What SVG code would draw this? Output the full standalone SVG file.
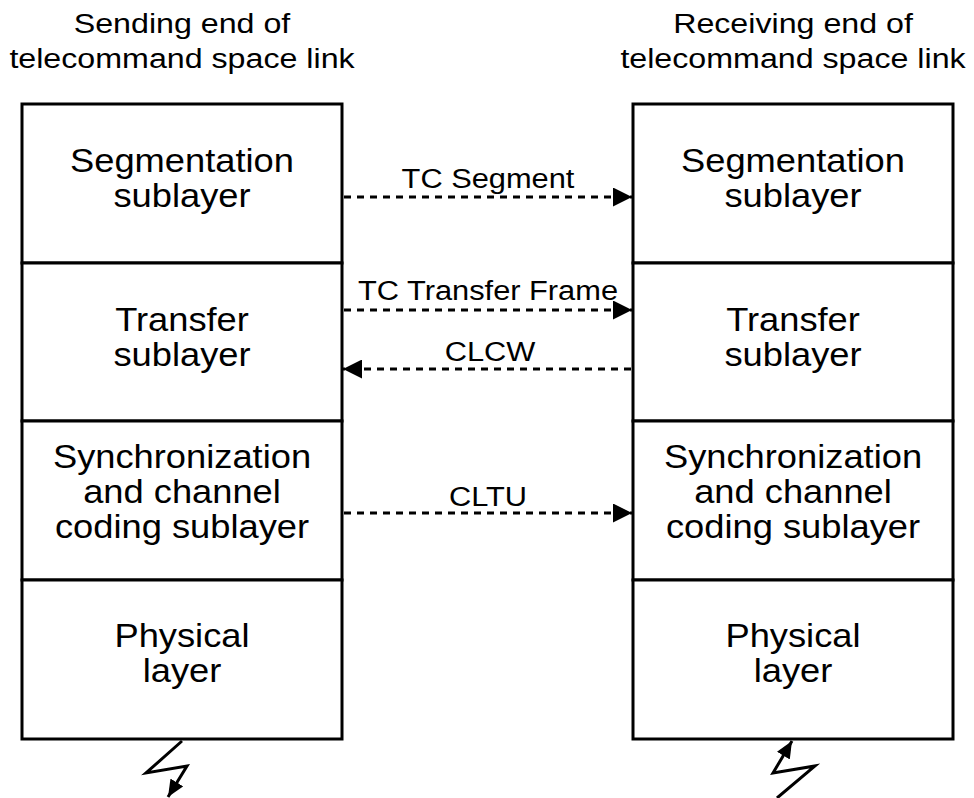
<svg xmlns="http://www.w3.org/2000/svg" width="974" height="798" viewBox="0 0 974 798">
<style>
.box{fill:#fff;stroke:#000;stroke-width:3}
.t{font-family:"Liberation Sans",Arial,sans-serif;font-size:33px;fill:#000;text-anchor:middle}
.h{font-family:"Liberation Sans",Arial,sans-serif;font-size:28px;fill:#000;text-anchor:middle}
.l{font-family:"Liberation Sans",Arial,sans-serif;font-size:28px;fill:#000;text-anchor:middle}
.dash{fill:none;stroke:#000;stroke-width:3;stroke-dasharray:7 6}
.bolt{fill:none;stroke:#000;stroke-width:3;stroke-linejoin:miter}
</style>
<defs>
<marker id="ah" markerUnits="userSpaceOnUse" markerWidth="19" markerHeight="19" refX="19" refY="9.5" orient="auto">
<path d="M0,0 L19,9.5 L0,19 z" fill="#000"/>
</marker>
<marker id="bh" markerUnits="userSpaceOnUse" markerWidth="17" markerHeight="15" refX="17" refY="7.5" orient="auto">
<path d="M0,0 L17,7.5 L0,15 z" fill="#000"/>
</marker>
</defs>
<rect width="974" height="798" fill="#fff"/>
<g id="header-left">
<text class="h" transform="translate(182 0) scale(1.15 1)"><tspan x="0" y="33">Sending end of</tspan><tspan x="0" y="68">telecommand space link</tspan></text>
</g>
<g id="header-right">
<text class="h" transform="translate(793 0) scale(1.15 1)"><tspan x="0" y="33">Receiving end of</tspan><tspan x="0" y="68">telecommand space link</tspan></text>
</g>
<g id="left-seg">
<rect class="box" x="22" y="104" width="320" height="159"/>
<text class="t" transform="translate(182 0) scale(1.1 1)"><tspan x="0" y="172">Segmentation</tspan><tspan x="0" y="207">sublayer</tspan></text>
</g>
<g id="left-transfer">
<rect class="box" x="22" y="263" width="320" height="158"/>
<text class="t" transform="translate(182 0) scale(1.1 1)"><tspan x="0" y="331">Transfer</tspan><tspan x="0" y="366">sublayer</tspan></text>
</g>
<g id="left-sync">
<rect class="box" x="22" y="421" width="320" height="159"/>
<text class="t" transform="translate(182 0) scale(1.1 1)"><tspan x="0" y="468">Synchronization</tspan><tspan x="0" y="503">and channel</tspan><tspan x="0" y="538">coding sublayer</tspan></text>
</g>
<g id="left-phys">
<rect class="box" x="22" y="580" width="320" height="159"/>
<text class="t" transform="translate(182 0) scale(1.1 1)"><tspan x="0" y="647">Physical</tspan><tspan x="0" y="682">layer</tspan></text>
</g>
<g id="right-seg">
<rect class="box" x="633" y="104" width="320" height="159"/>
<text class="t" transform="translate(793 0) scale(1.1 1)"><tspan x="0" y="172">Segmentation</tspan><tspan x="0" y="207">sublayer</tspan></text>
</g>
<g id="right-transfer">
<rect class="box" x="633" y="263" width="320" height="158"/>
<text class="t" transform="translate(793 0) scale(1.1 1)"><tspan x="0" y="331">Transfer</tspan><tspan x="0" y="366">sublayer</tspan></text>
</g>
<g id="right-sync">
<rect class="box" x="633" y="421" width="320" height="159"/>
<text class="t" transform="translate(793 0) scale(1.1 1)"><tspan x="0" y="468">Synchronization</tspan><tspan x="0" y="503">and channel</tspan><tspan x="0" y="538">coding sublayer</tspan></text>
</g>
<g id="right-phys">
<rect class="box" x="633" y="580" width="320" height="159"/>
<text class="t" transform="translate(793 0) scale(1.1 1)"><tspan x="0" y="647">Physical</tspan><tspan x="0" y="682">layer</tspan></text>
</g>
<g id="connectors">
<line class="dash" x1="344" y1="197" x2="632" y2="197" marker-end="url(#ah)"/>
<line class="dash" x1="344" y1="310" x2="632" y2="310" marker-end="url(#ah)"/>
<line class="dash" x1="631" y1="369" x2="343" y2="369" marker-end="url(#ah)"/>
<line class="dash" x1="344" y1="513" x2="632" y2="513" marker-end="url(#ah)"/>
<path class="bolt" d="M182,741 L146,773 L187,766 L168,797" marker-end="url(#bh)"/>
<path class="bolt" d="M777,798 L815,766 L773,773 L792,741" marker-end="url(#bh)"/>
</g>
<g id="labels">
<text class="l" transform="translate(488 0) scale(1.1 1)" x="0" y="188">TC Segment</text>
<text class="l" transform="translate(488 0) scale(1.1 1)" x="0" y="300">TC Transfer Frame</text>
<text class="l" transform="translate(490 0) scale(1.1 1)" x="0" y="361">CLCW</text>
<text class="l" transform="translate(488 0) scale(1.1 1)" x="0" y="506">CLTU</text>
</g>
</svg>
